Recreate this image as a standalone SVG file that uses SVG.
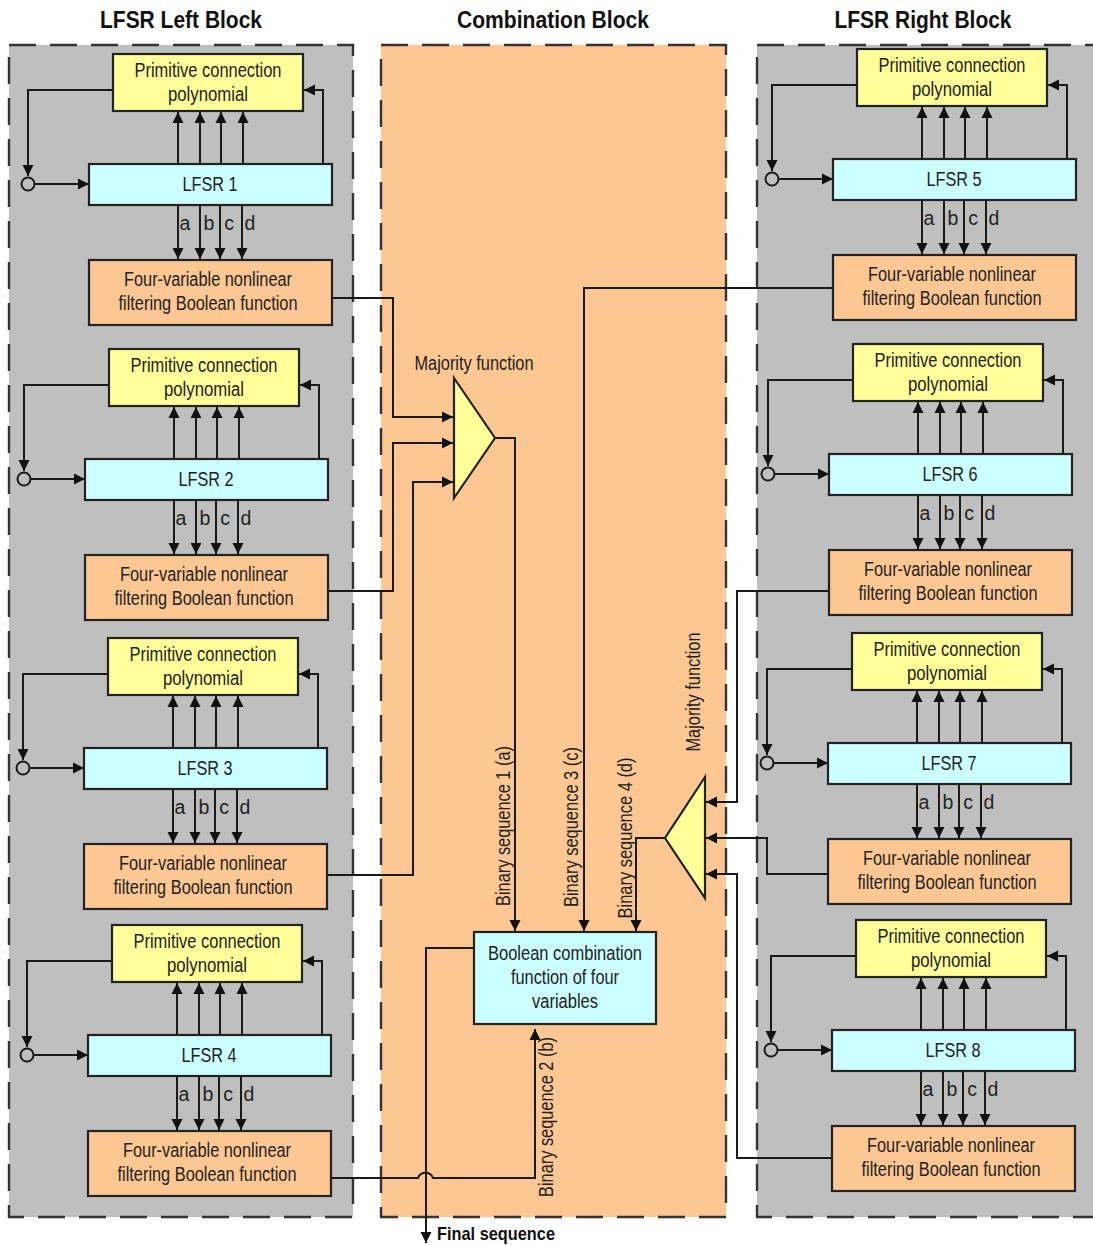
<svg xmlns="http://www.w3.org/2000/svg" xmlns:xlink="http://www.w3.org/1999/xlink" width="1093" height="1245" viewBox="0 0 1093 1245">
<style>
text{font-family:"Liberation Sans",Arial,sans-serif;font-size:19.5px;fill:#222;text-anchor:middle}
.title{font-size:24px;font-weight:bold;fill:#111}
.fin{font-size:19px;font-weight:bold;fill:#111}
.panel{stroke:#333;stroke-width:2.4;stroke-dasharray:27 14}
.box{stroke:#222;stroke-width:2.2}
.y{fill:#ffff99}.c{fill:#ccffff}.o{fill:#fdc793}
.w{fill:none;stroke:#1a1a1a;stroke-width:2}
.a{marker-end:url(#ah)}
</style>
<defs>
<marker id="ah" viewBox="0 0 10 10" refX="10" refY="5" markerWidth="11" markerHeight="11.5" markerUnits="userSpaceOnUse" orient="auto"><path d="M0 0L10 5L0 10Z" fill="#111"/></marker>
<g id="wires">
<path class="w a" d="M113 90H28V176"/>
<circle cx="28" cy="184" r="6.5" fill="none" stroke="#1a1a1a" stroke-width="2"/>
<path class="w a" d="M35 184H89"/>
<path class="w a" d="M323 164V90H304"/>
<path class="w a" d="M178 164V112"/>
<path class="w a" d="M200 164V112"/>
<path class="w a" d="M221 164V112"/>
<path class="w a" d="M243 164V112"/>
<path class="w a" d="M178 205V259"/>
<path class="w a" d="M200 205V259"/>
<path class="w a" d="M220 205V259"/>
<path class="w a" d="M242 205V259"/>
</g>
</defs>

<rect class="panel" x="9" y="45" width="344" height="1172" fill="#bfbfbf"/>
<rect class="panel" x="381" y="45" width="345" height="1172" fill="#fdc793"/>
<rect class="panel" x="757" y="45" width="344" height="1172" fill="#bfbfbf"/>

<text class="title" x="181" y="28" textLength="162" lengthAdjust="spacingAndGlyphs">LFSR Left Block</text>
<text class="title" x="553" y="28" textLength="192" lengthAdjust="spacingAndGlyphs">Combination Block</text>
<text class="title" x="923" y="28" textLength="177" lengthAdjust="spacingAndGlyphs">LFSR Right Block</text>

<g id="connectors">
<use href="#wires"/>
<use href="#wires" transform="translate(-4 295)"/>
<use href="#wires" transform="translate(-5 584)"/>
<use href="#wires" transform="translate(-1 871)"/>
<use href="#wires" transform="translate(744 -5)"/>
<use href="#wires" transform="translate(740 290)"/>
<use href="#wires" transform="translate(739 579)"/>
<use href="#wires" transform="translate(743 866)"/>
<path class="w a" d="M332 298H393V417H453"/>
<path class="w a" d="M328 591H393V443H453"/>
<path class="w a" d="M327 875H413V482H453"/>
<path class="w a" d="M495 438H515V931"/>
<path class="w a" d="M331 1178H418A8 8 0 0 1 433 1178H535V1029"/>
<path class="w a" d="M474 948H426V1243"/>
<path class="w a" d="M833 288H584V931"/>
<path class="w a" d="M829 591H737V802H706"/>
<path class="w a" d="M828 874H767V838H706"/>
<path class="w a" d="M832 1158H737V874H706"/>
<path class="w a" d="M665 838H636V931"/>
</g>

<g id="majority-left"><path class="box y" d="M454 378L495 438L454 498Z"/></g>
<g id="majority-right"><path class="box y" d="M705 777L665 838L705 898Z"/></g>
<g id="boolean-combination"><rect class="box c" x="474" y="932" width="182" height="92"/>
<text x="565" y="960" textLength="154" lengthAdjust="spacingAndGlyphs">Boolean combination</text>
<text x="565" y="984" textLength="108" lengthAdjust="spacingAndGlyphs">function of four</text>
<text x="565" y="1008" textLength="66" lengthAdjust="spacingAndGlyphs">variables</text></g>

<g id="module-1">
<g id="poly-1"><rect class="box y" x="113" y="54" width="190" height="57"/><text x="208" y="77" textLength="147" lengthAdjust="spacingAndGlyphs">Primitive connection</text><text x="208" y="101" textLength="80" lengthAdjust="spacingAndGlyphs">polynomial</text></g>
<g id="lfsr-1"><rect class="box c" x="89" y="164" width="243" height="41"/><text x="210" y="191" textLength="55" lengthAdjust="spacingAndGlyphs">LFSR 1</text></g>
<g id="filter-1"><rect class="box o" x="89" y="260" width="243" height="65"/><text x="208" y="286" textLength="168" lengthAdjust="spacingAndGlyphs">Four-variable nonlinear</text><text x="208" y="310" textLength="179" lengthAdjust="spacingAndGlyphs">filtering Boolean function</text></g>
<g><text x="185" y="230">a</text><text x="209" y="230">b</text><text x="229" y="230">c</text><text x="250" y="230">d</text></g>
</g>
<g id="module-2" transform="translate(-4 295)">
<g id="poly-2"><rect class="box y" x="113" y="54" width="190" height="57"/><text x="208" y="77" textLength="147" lengthAdjust="spacingAndGlyphs">Primitive connection</text><text x="208" y="101" textLength="80" lengthAdjust="spacingAndGlyphs">polynomial</text></g>
<g id="lfsr-2"><rect class="box c" x="89" y="164" width="243" height="41"/><text x="210" y="191" textLength="55" lengthAdjust="spacingAndGlyphs">LFSR 2</text></g>
<g id="filter-2"><rect class="box o" x="89" y="260" width="243" height="65"/><text x="208" y="286" textLength="168" lengthAdjust="spacingAndGlyphs">Four-variable nonlinear</text><text x="208" y="310" textLength="179" lengthAdjust="spacingAndGlyphs">filtering Boolean function</text></g>
<g><text x="185" y="230">a</text><text x="209" y="230">b</text><text x="229" y="230">c</text><text x="250" y="230">d</text></g>
</g>
<g id="module-3" transform="translate(-5 584)">
<g id="poly-3"><rect class="box y" x="113" y="54" width="190" height="57"/><text x="208" y="77" textLength="147" lengthAdjust="spacingAndGlyphs">Primitive connection</text><text x="208" y="101" textLength="80" lengthAdjust="spacingAndGlyphs">polynomial</text></g>
<g id="lfsr-3"><rect class="box c" x="89" y="164" width="243" height="41"/><text x="210" y="191" textLength="55" lengthAdjust="spacingAndGlyphs">LFSR 3</text></g>
<g id="filter-3"><rect class="box o" x="89" y="260" width="243" height="65"/><text x="208" y="286" textLength="168" lengthAdjust="spacingAndGlyphs">Four-variable nonlinear</text><text x="208" y="310" textLength="179" lengthAdjust="spacingAndGlyphs">filtering Boolean function</text></g>
<g><text x="185" y="230">a</text><text x="209" y="230">b</text><text x="229" y="230">c</text><text x="250" y="230">d</text></g>
</g>
<g id="module-4" transform="translate(-1 871)">
<g id="poly-4"><rect class="box y" x="113" y="54" width="190" height="57"/><text x="208" y="77" textLength="147" lengthAdjust="spacingAndGlyphs">Primitive connection</text><text x="208" y="101" textLength="80" lengthAdjust="spacingAndGlyphs">polynomial</text></g>
<g id="lfsr-4"><rect class="box c" x="89" y="164" width="243" height="41"/><text x="210" y="191" textLength="55" lengthAdjust="spacingAndGlyphs">LFSR 4</text></g>
<g id="filter-4"><rect class="box o" x="89" y="260" width="243" height="65"/><text x="208" y="286" textLength="168" lengthAdjust="spacingAndGlyphs">Four-variable nonlinear</text><text x="208" y="310" textLength="179" lengthAdjust="spacingAndGlyphs">filtering Boolean function</text></g>
<g><text x="185" y="230">a</text><text x="209" y="230">b</text><text x="229" y="230">c</text><text x="250" y="230">d</text></g>
</g>
<g id="module-5" transform="translate(744 -5)">
<g id="poly-5"><rect class="box y" x="113" y="54" width="190" height="57"/><text x="208" y="77" textLength="147" lengthAdjust="spacingAndGlyphs">Primitive connection</text><text x="208" y="101" textLength="80" lengthAdjust="spacingAndGlyphs">polynomial</text></g>
<g id="lfsr-5"><rect class="box c" x="89" y="164" width="243" height="41"/><text x="210" y="191" textLength="55" lengthAdjust="spacingAndGlyphs">LFSR 5</text></g>
<g id="filter-5"><rect class="box o" x="89" y="260" width="243" height="65"/><text x="208" y="286" textLength="168" lengthAdjust="spacingAndGlyphs">Four-variable nonlinear</text><text x="208" y="310" textLength="179" lengthAdjust="spacingAndGlyphs">filtering Boolean function</text></g>
<g><text x="185" y="230">a</text><text x="209" y="230">b</text><text x="229" y="230">c</text><text x="250" y="230">d</text></g>
</g>
<g id="module-6" transform="translate(740 290)">
<g id="poly-6"><rect class="box y" x="113" y="54" width="190" height="57"/><text x="208" y="77" textLength="147" lengthAdjust="spacingAndGlyphs">Primitive connection</text><text x="208" y="101" textLength="80" lengthAdjust="spacingAndGlyphs">polynomial</text></g>
<g id="lfsr-6"><rect class="box c" x="89" y="164" width="243" height="41"/><text x="210" y="191" textLength="55" lengthAdjust="spacingAndGlyphs">LFSR 6</text></g>
<g id="filter-6"><rect class="box o" x="89" y="260" width="243" height="65"/><text x="208" y="286" textLength="168" lengthAdjust="spacingAndGlyphs">Four-variable nonlinear</text><text x="208" y="310" textLength="179" lengthAdjust="spacingAndGlyphs">filtering Boolean function</text></g>
<g><text x="185" y="230">a</text><text x="209" y="230">b</text><text x="229" y="230">c</text><text x="250" y="230">d</text></g>
</g>
<g id="module-7" transform="translate(739 579)">
<g id="poly-7"><rect class="box y" x="113" y="54" width="190" height="57"/><text x="208" y="77" textLength="147" lengthAdjust="spacingAndGlyphs">Primitive connection</text><text x="208" y="101" textLength="80" lengthAdjust="spacingAndGlyphs">polynomial</text></g>
<g id="lfsr-7"><rect class="box c" x="89" y="164" width="243" height="41"/><text x="210" y="191" textLength="55" lengthAdjust="spacingAndGlyphs">LFSR 7</text></g>
<g id="filter-7"><rect class="box o" x="89" y="260" width="243" height="65"/><text x="208" y="286" textLength="168" lengthAdjust="spacingAndGlyphs">Four-variable nonlinear</text><text x="208" y="310" textLength="179" lengthAdjust="spacingAndGlyphs">filtering Boolean function</text></g>
<g><text x="185" y="230">a</text><text x="209" y="230">b</text><text x="229" y="230">c</text><text x="250" y="230">d</text></g>
</g>
<g id="module-8" transform="translate(743 866)">
<g id="poly-8"><rect class="box y" x="113" y="54" width="190" height="57"/><text x="208" y="77" textLength="147" lengthAdjust="spacingAndGlyphs">Primitive connection</text><text x="208" y="101" textLength="80" lengthAdjust="spacingAndGlyphs">polynomial</text></g>
<g id="lfsr-8"><rect class="box c" x="89" y="164" width="243" height="41"/><text x="210" y="191" textLength="55" lengthAdjust="spacingAndGlyphs">LFSR 8</text></g>
<g id="filter-8"><rect class="box o" x="89" y="260" width="243" height="65"/><text x="208" y="286" textLength="168" lengthAdjust="spacingAndGlyphs">Four-variable nonlinear</text><text x="208" y="310" textLength="179" lengthAdjust="spacingAndGlyphs">filtering Boolean function</text></g>
<g><text x="185" y="230">a</text><text x="209" y="230">b</text><text x="229" y="230">c</text><text x="250" y="230">d</text></g>
</g>

<g id="labels">
<text x="474" y="370" textLength="119" lengthAdjust="spacingAndGlyphs">Majority function</text>
<text transform="translate(510 826) rotate(-90)" textLength="160" lengthAdjust="spacingAndGlyphs">Binary sequence 1 (a)</text>
<text transform="translate(578 827) rotate(-90)" textLength="160" lengthAdjust="spacingAndGlyphs">Binary sequence 3 (c)</text>
<text transform="translate(632 838) rotate(-90)" textLength="161" lengthAdjust="spacingAndGlyphs">Binary sequence 4 (d)</text>
<text transform="translate(553 1117) rotate(-90)" textLength="160" lengthAdjust="spacingAndGlyphs">Binary sequence 2 (b)</text>
<text transform="translate(700 692) rotate(-90)" textLength="119" lengthAdjust="spacingAndGlyphs">Majority function</text>
<text class="fin" x="496" y="1240" textLength="118" lengthAdjust="spacingAndGlyphs">Final sequence</text>
</g>
</svg>
